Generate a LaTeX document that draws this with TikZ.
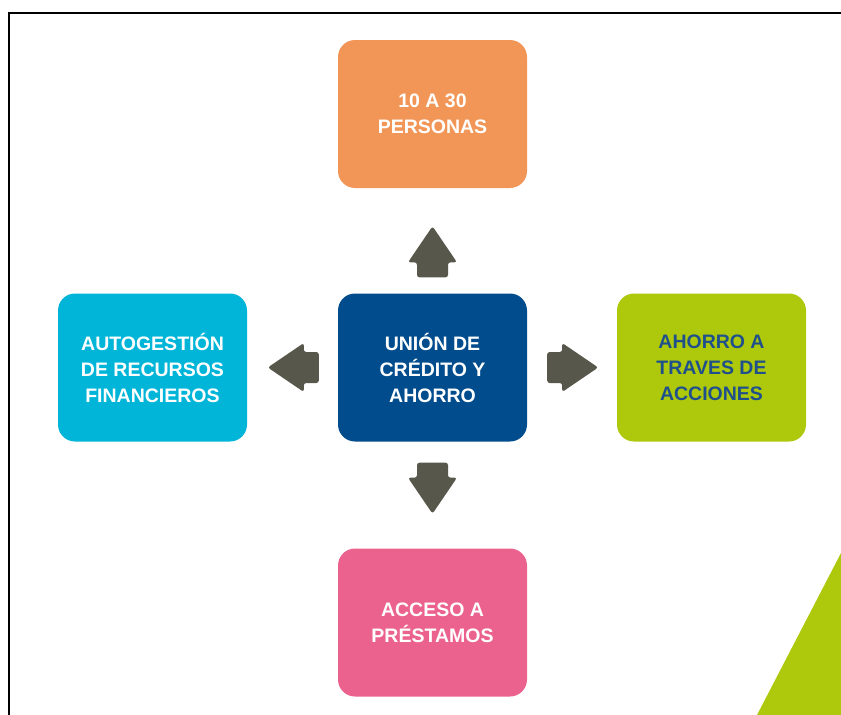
\documentclass[tikz,border=0pt]{standalone}
\usepackage{fontspec}
\setmainfont{Liberation Sans}
\usetikzlibrary{calc}

\definecolor{MOrange}{HTML}{F29657}
\definecolor{MBlue}{HTML}{004C8C}
\definecolor{MCyan}{HTML}{00B5D8}
\definecolor{MGreen}{HTML}{AEC90B}
\definecolor{MPink}{HTML}{EB628F}
\definecolor{MGray}{HTML}{57574B}
\definecolor{MText}{HTML}{1F508C}

\tikzset{
  box/.style={rectangle, rounded corners=17pt, minimum width=189pt, minimum height=148pt,
    align=center, text=white, inner sep=0pt,
    font=\fontsize{19.5}{26}\selectfont\bfseries},
}

% block arrow: #1 start point, #2 direction
\newcommand{\blkarrow}[2]{%
  \fill[MGray, rounded corners=2.5pt, shift={#1}, rotate=#2]
    (0,-15.5) -- (15,-15.5) -- (15,-24.5) -- (51,0) -- (15,24.5) -- (15,15.5) -- (0,15.5) -- cycle;}

\begin{document}
\begin{tikzpicture}[x=1pt,y=1pt]
			\useasboundingbox (0,0) rectangle (841,-715);
			\fill[white] (0,0) rectangle (841,-715);
			\fill[MGreen] (757,-715) -- (841,-553) -- (841,-715) -- cycle;
			\draw[black, line width=2pt] (8.5,-715) -- (8.5,-13) -- (841,-13);
			
			\node[box, fill=MBlue] (union) at (432.5,-367.5) {UNIÓN DE\\CRÉDITO Y\\AHORRO};
			\node[box, fill=MOrange] (personas) at (432.5,-114) {10 A 30\\PERSONAS};
			\node[box, fill=MCyan] (autogestion) at (152.5,-367.5) {AUTOGESTIÓN\\DE RECURSOS\\FINANCIEROS};
			\node[box, fill=MGreen, text=MText] (acciones) at (711.5,-367.5) {AHORRO A\\TRAVES DE\\ACCIONES};
			\node[box, fill=MPink] (prestamos) at (432.5,-622.5) {ACCESO A\\PRÉSTAMOS};
			
			\blkarrow{($(union.north)+(0,16)$)}{90}
			\blkarrow{($(union.south)+(0,-21)$)}{-90}
			\blkarrow{($(union.west)+(-19,0)$)}{180}
			\blkarrow{($(union.east)+(20,0)$)}{0}
		\end{tikzpicture}
\end{document}
